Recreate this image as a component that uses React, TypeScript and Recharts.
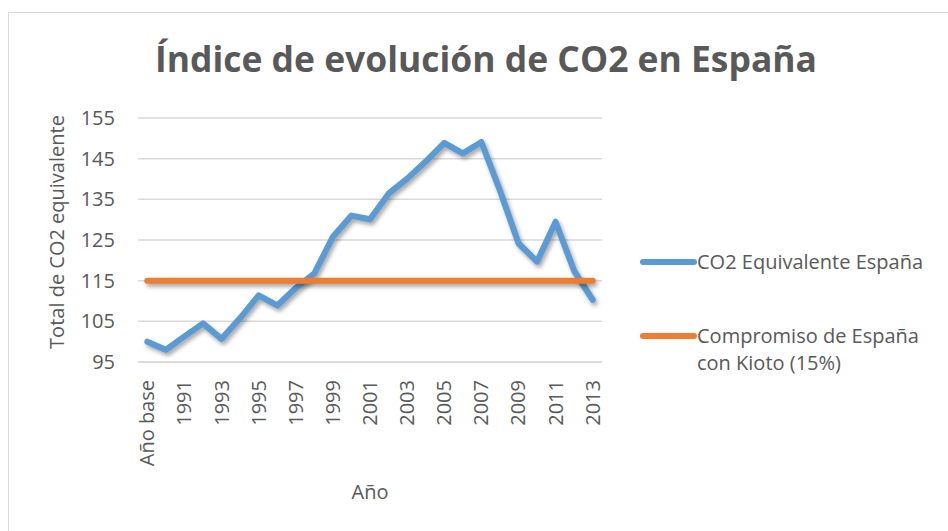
import React from "react";
import { CartesianGrid, Line, LineChart, XAxis, YAxis } from "recharts";

const categories = [
  "Año base", "1990", "1991", "1992", "1993", "1994", "1995", "1996", "1997", "1998",
  "1999", "2000", "2001", "2002", "2003", "2004", "2005", "2006", "2007", "2008",
  "2009", "2010", "2011", "2012", "2013",
];
const co2Equivalente = [
  100, 98, 101.3, 104.5, 100.7, 105.8, 111.4, 108.9, 113.2, 116.8,
  125.8, 131, 130.1, 136.4, 140.1, 144.3, 148.9, 146.3, 149.1, 137.2,
  124.2, 119.7, 129.5, 117.4, 110.3,
];
const compromisoKioto = [
  115, 115, 115, 115, 115, 115, 115, 115, 115, 115,
  115, 115, 115, 115, 115, 115, 115, 115, 115, 115,
  115, 115, 115, 115, 115,
];
const yTicks = [95, 105, 115, 125, 135, 145, 155];

const data = categories.map((year, i) => ({
  year,
  co2: co2Equivalente[i],
  kioto: compromisoKioto[i],
}));

const series = [
  { key: "co2", name: "CO2 Equivalente España", color: "#5b9bd5" },
  { key: "kioto", name: "Compromiso de España con Kioto (15%)", color: "#ed7d31" },
];

const font = "'Open Sans', sans-serif";
const ink = "#595959";
const grid = "#d9d9d9";
const size = 20;

function RotatedTick(props: any) {
  const { x, y, payload } = props;
  return (
    <text
      x={x}
      y={y + 10}
      transform={`rotate(-90, ${x}, ${y + 10})`}
      textAnchor="end"
      dy="0.35em"
      fill={ink}
      fontSize={size}
      fontFamily={font}
    >
      {payload.value}
    </text>
  );
}

function LegendBox() {
  return (
    <div
      style={{
        position: "absolute",
        left: 640,
        top: 248,
        width: 300,
        fontFamily: font,
        fontSize: size,
        color: ink,
        lineHeight: "27px",
      }}
    >
      {series.map((s, i) => (
        <div key={s.key} style={{ display: "flex", alignItems: "flex-start", marginBottom: i === 0 ? 47 : 0 }}>
          <div
            style={{
              width: 57,
              height: 6,
              borderRadius: 3,
              background: s.color,
              marginTop: 11,
              flex: "none",
            }}
          />
          <div style={{ width: 235 }}>{s.name}</div>
        </div>
      ))}
    </div>
  );
}

export default function App() {
  return (
    <div style={{ position: "absolute", left: 0, top: 0, width: 948, height: 531, background: "#fff", overflow: "hidden" }}>
      <style>{`.recharts-line-curve { filter: drop-shadow(2px 3px 2px rgba(0,0,0,0.35)); }`}</style>
      <div
        style={{
          position: "absolute",
          left: 8,
          top: 12,
          width: 960,
          height: 560,
          border: `1.5px solid ${grid}`,
          boxSizing: "border-box",
        }}
      />
      <div style={{ position: "absolute", left: 0, top: 0 }}>
        <LineChart width={948} height={531} data={data} margin={{ top: 118, right: 346, bottom: 69, left: 0 }}>
          <CartesianGrid horizontal vertical={false} stroke={grid} strokeWidth={1.5} />
          <XAxis
            dataKey="year"
            interval={1}
            tick={<RotatedTick />}
            tickLine={false}
            axisLine={{ stroke: grid, strokeWidth: 1.5 }}
            height={100}
            padding={{ left: 9.3, right: 9.3 }}
          />
          <YAxis
            width={138}
            domain={[95, 155]}
            ticks={yTicks}
            tickLine={false}
            axisLine={false}
            tickSize={0}
            tickMargin={23}
            tick={{ fill: ink, fontSize: size, fontFamily: font }}
          />
          {series.map((s) => (
            <Line
              key={s.key}
              dataKey={s.key}
              name={s.name}
              stroke={s.color}
              strokeWidth={6}
              strokeLinecap="round"
              strokeLinejoin="round"
              dot={false}
              isAnimationActive={false}
            />
          ))}
        </LineChart>
      </div>
      <LegendBox />
      <svg width={948} height={531} style={{ position: "absolute", left: 0, top: 0, pointerEvents: "none" }}>
        <text
          x={155}
          y={72}
          textLength={662}
          lengthAdjust="spacingAndGlyphs"
          fontFamily={font}
          fontWeight={700}
          fontSize={35}
          fill={ink}
        >
          Índice de evolución de CO2 en España
        </text>
        <text
          x={57}
          y={232}
          transform="rotate(-90, 57, 232)"
          textAnchor="middle"
          dy="0.35em"
          fontFamily={font}
          fontSize={size}
          fill={ink}
        >
          Total de CO2 equivalente
        </text>
        <text x={370} y={492} textAnchor="middle" dy="0.35em" fontFamily={font} fontSize={size} fill={ink}>
          Año
        </text>
      </svg>
    </div>
  );
}
